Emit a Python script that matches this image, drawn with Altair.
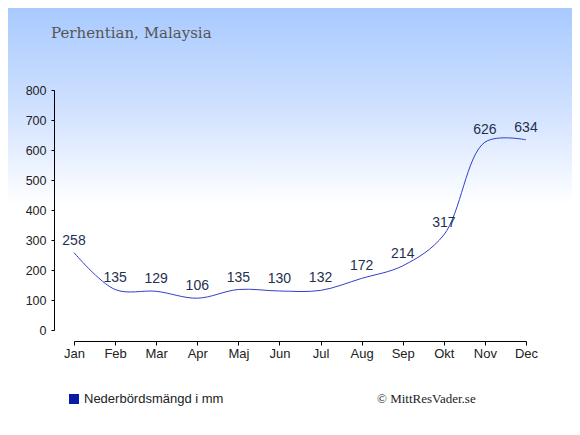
import altair as alt
import pandas as pd

months = ["Jan", "Feb", "Mar", "Apr", "Maj", "Jun", "Jul", "Aug", "Sep", "Okt", "Nov", "Dec"]
rain = [258, 135, 129, 106, 135, 130, 132, 172, 214, 317, 626, 634]
title_text = "Perhentian, Malaysia"
legend_text = "Nederbördsmängd i mm"
credit_text = "© MittResVader.se"

df = pd.DataFrame({"month": months, "rain": rain})
one = pd.DataFrame({"k": [0]})

W, H = 452, 240
PL, PT, PR, PB = 66, 82, 46, 97

x = alt.X("month:N", sort=months, title=None,
          scale=alt.Scale(type="point", padding=0),
          axis=alt.Axis(labelAngle=0, offset=11, tickSize=4, labelPadding=2, zindex=2,
                        domainColor="#000", tickColor="#000", labelColor="#222",
                        labelFontSize=13, labelFont="Liberation Sans"))
y = alt.Y("rain:Q", title=None,
          scale=alt.Scale(domain=[0, 800], nice=False),
          axis=alt.Axis(values=list(range(0, 801, 100)), offset=20, tickSize=3, zindex=2,
                        labelPadding=5, grid=False, domainColor="#000", tickColor="#000",
                        labelColor="#222", labelFontSize=12.5, labelFont="Liberation Sans"))

bg = alt.Chart(one).mark_rect(
    color=alt.Gradient(gradient="linear", x1=0, y1=0, x2=0, y2=1,
                       stops=[alt.GradientStop(offset=0, color="#a8caff"),
                              alt.GradientStop(offset=0.25, color="#d2e2ff"),
                              alt.GradientStop(offset=0.47, color="#ffffff"),
                              alt.GradientStop(offset=1, color="#ffffff")])
).encode(x=alt.value(-PL), x2=alt.value(W + PR), y=alt.value(-PT), y2=alt.value(H + PB))

line = alt.Chart(df).mark_line(interpolate="catmull-rom", color="#3040c8", strokeWidth=1).encode(x=x, y=y)

labels = alt.Chart(df).mark_text(dy=-12, fontSize=14, font="Liberation Sans", color="#1f3050").encode(
    x=x, y=y, text="rain:Q")

title = alt.Chart(one).mark_text(align="left", baseline="alphabetic", font="DejaVu Serif",
                                 fontSize=15, color="#555555", text=title_text).encode(
    x=alt.value(-23), y=alt.value(-52))

leg_sq = alt.Chart(one).mark_rect(color="#0a1aa8").encode(
    x=alt.value(-5), x2=alt.value(5), y=alt.value(304), y2=alt.value(314))

leg_txt = alt.Chart(one).mark_text(align="left", baseline="middle", font="Liberation Sans",
                                   fontSize=13, color="#222222", text=legend_text).encode(
    x=alt.value(10), y=alt.value(309))

credit = alt.Chart(one).mark_text(align="left", baseline="middle", font="Liberation Serif",
                                  fontSize=13, color="#222222", text=credit_text).encode(
    x=alt.value(303), y=alt.value(309))

chart = alt.layer(bg, line, labels, title, leg_sq, leg_txt, credit).properties(
    width=W, height=H,
    autosize=alt.AutoSizeParams(type="none"),
    padding={"left": PL, "top": PT, "right": PR, "bottom": PB},
).configure_view(stroke=None).configure(background="white")

chart.save("out.html", embed_options={"renderer": "svg", "actions": False})
